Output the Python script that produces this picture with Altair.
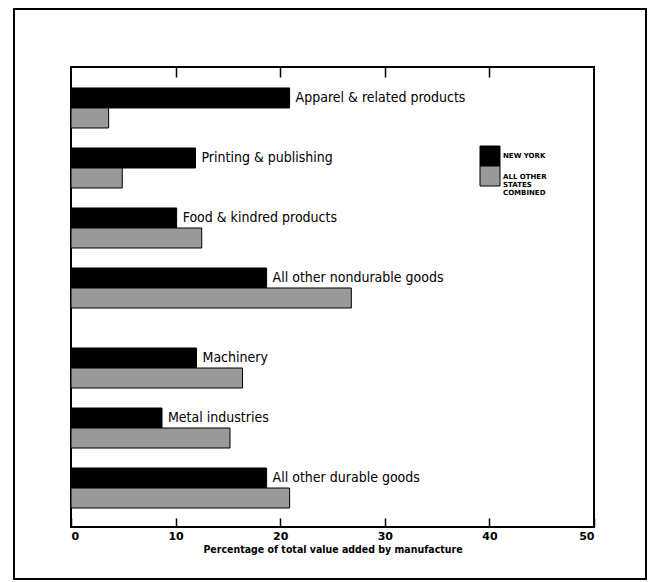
import altair as alt
import pandas as pd

categories = [
    "Apparel & related products",
    "Printing & publishing",
    "Food & kindred products",
    "All other nondurable goods",
    "Machinery",
    "Metal industries",
    "All other durable goods",
]
groups = ["nondurable", "nondurable", "nondurable", "nondurable", "durable", "durable", "durable"]
new_york = [20.9, 11.9, 10.1, 18.7, 12.0, 8.7, 18.7]
other_states = [3.6, 4.9, 12.5, 26.8, 16.4, 15.2, 20.9]
series_names = ["NEW YORK", "ALL OTHER STATES COMBINED"]
x_ticks = [0, 10, 20, 30, 40, 50]

BAR = 1 / 3
rows = []
for i, (cat, grp, ny, ot) in enumerate(zip(categories, groups, new_york, other_states)):
    slot = i + (BAR if grp == "durable" else 0)
    rows.append({"category": cat, "series": series_names[0], "value": ny,
                 "top": slot - BAR, "bottom": slot, "mid": slot - BAR / 2})
    rows.append({"category": cat, "series": series_names[1], "value": ot,
                 "top": slot, "bottom": slot + BAR, "mid": slot + BAR / 2})
df = pd.DataFrame(rows)
legend_df = pd.DataFrame({"series": series_names})

W, H = 523, 460
xscale = alt.Scale(domain=[0, 50], nice=False, zero=True)
yscale = alt.Scale(domain=[-0.683, 6.983], reverse=True, nice=False, zero=False)
cscale = alt.Scale(domain=series_names, range=["#000000", "#999999"])

bars = alt.Chart(df).mark_bar(stroke="black", strokeWidth=1).encode(
    x=alt.X("value:Q", scale=xscale,
            axis=alt.Axis(orient="bottom", values=x_ticks, offset=-9, tickSize=9,
                          tickWidth=1.5, tickColor="black", domain=False, grid=False,
                          labelPadding=3, labelFont="DejaVu Sans", labelFontWeight="bold",
                          labelFontSize=11, labelColor="black",
                          title="Percentage of total value added by manufacture",
                          titleFont="DejaVu Sans Condensed", titleFontWeight="bold",
                          titleFontSize=10.5, titleColor="black", titlePadding=3)),
    x2=alt.datum(0),
    y=alt.Y("top:Q", scale=yscale, axis=None),
    y2="bottom:Q",
    color=alt.Color("series:N", scale=cscale, legend=None),
)

labels = alt.Chart(df[df["series"] == series_names[0]]).mark_text(
    align="left", baseline="middle", dx=6, font="DejaVu Sans Condensed", fontSize=14, color="black"
).encode(
    x=alt.X("value:Q", scale=xscale,
            axis=alt.Axis(orient="top", values=[10, 20, 30, 40], offset=-10, tickSize=10,
                          tickWidth=1.5, tickColor="black", domain=False, grid=False,
                          labels=False, title=None)),
    y=alt.Y("mid:Q", scale=yscale, axis=None),
    text="category:N",
)

# manual legend
sw_ny = alt.Chart(legend_df).transform_filter(alt.datum.series == series_names[0]).mark_rect(
    stroke="black", strokeWidth=1
).encode(
    x=alt.value(409), x2=alt.value(429), y=alt.value(79), y2=alt.value(99),
    color=alt.Color("series:N", scale=cscale, legend=None),
)
sw_ot = alt.Chart(legend_df).transform_filter(alt.datum.series == series_names[1]).mark_rect(
    stroke="black", strokeWidth=1
).encode(
    x=alt.value(409), x2=alt.value(429), y=alt.value(99), y2=alt.value(119),
    color=alt.Color("series:N", scale=cscale, legend=None),
)
lt_ny = alt.Chart(legend_df).transform_filter(alt.datum.series == series_names[0]).mark_text(
    align="left", baseline="middle", font="DejaVu Sans", fontWeight="bold", fontSize=7, color="black"
).encode(x=alt.value(432), y=alt.value(89), text="series:N")
lt_ot = alt.Chart(legend_df).transform_filter(alt.datum.series == series_names[1]).transform_calculate(
    lines="['ALL OTHER', 'STATES', 'COMBINED']"
).mark_text(
    align="left", baseline="middle", font="DejaVu Sans", fontWeight="bold", fontSize=7,
    lineHeight=8, color="black"
).encode(x=alt.value(432), y=alt.value(110), text="lines:N")

frame = alt.Chart(alt.Data(values=[{}])).mark_rect(
    fill=None, stroke="black", strokeWidth=2
).encode(
    x=alt.value(-57), x2=alt.value(575), y=alt.value(-58), y2=alt.value(512),
)

chart = alt.layer(frame, bars, labels, sw_ny, sw_ot, lt_ny, lt_ot).resolve_axis(x="independent").properties(
    width=W, height=H,
    autosize=alt.AutoSizeParams(type="none"),
    padding={"left": 71, "top": 67, "right": 63, "bottom": 55},
    background="white",
).configure_view(stroke="black", strokeWidth=2)

chart.save("out.html", embed_options={"renderer": "svg", "actions": False})
